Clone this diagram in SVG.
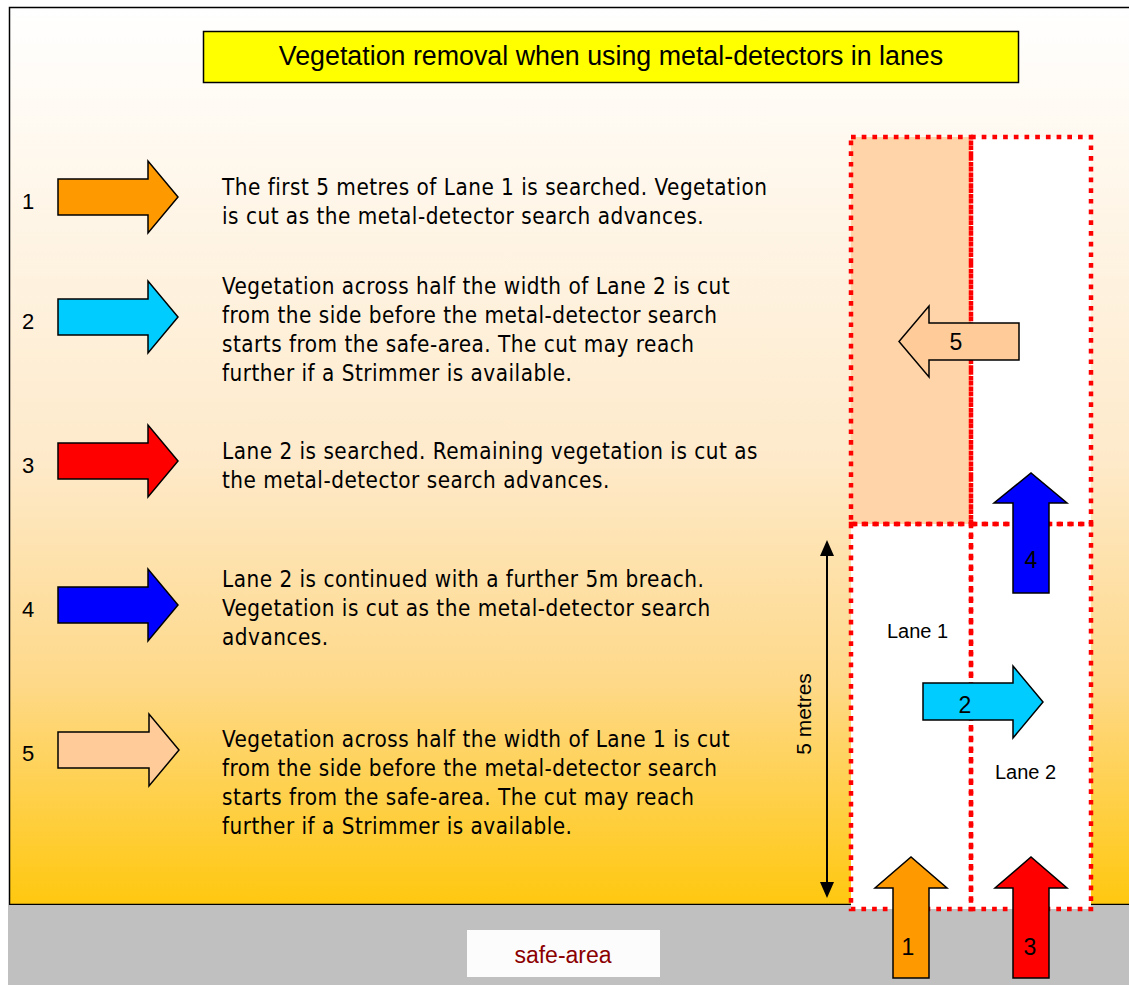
<svg xmlns="http://www.w3.org/2000/svg" width="1129" height="985" viewBox="0 0 1129 985">
<defs>
<linearGradient id="bg" x1="0" y1="0" x2="0" y2="1">
<stop offset="0" stop-color="#FFFFFF"/>
<stop offset="0.5" stop-color="#FEEACB"/>
<stop offset="0.75" stop-color="#FED98A"/>
<stop offset="1" stop-color="#FFC80F"/>
</linearGradient>
<style>
.body{font-family:"DejaVu Sans Condensed","DejaVu Sans",sans-serif;font-stretch:condensed;font-size:22.3px;letter-spacing:0.5px;fill:#000}
.num{font-family:"Liberation Sans",Arial,sans-serif;font-size:22px;fill:#000}
.anum{font-family:"Liberation Sans",Arial,sans-serif;font-size:23px;fill:#000;text-anchor:middle}
.lane{font-family:"Liberation Sans",Arial,sans-serif;font-size:20px;fill:#000}
.arr{stroke:#000;stroke-width:1.5;stroke-linejoin:miter}
.dot{fill:none;stroke:#FF0000;stroke-width:4.5;stroke-dasharray:4.7 6}
</style>
</defs>
<rect x="0" y="0" width="1129" height="985" fill="#FFFFFF"/>
<rect x="9.5" y="7.5" width="1125" height="897" fill="url(#bg)" stroke="#000" stroke-width="1.5"/>
<rect x="8" y="905" width="1121" height="80" fill="#C0C0C0"/>

<g id="title">
<rect x="203.5" y="31.5" width="815" height="51" fill="#FFFF00" stroke="#000" stroke-width="1.5"/>
<text x="611" y="65" font-family="Liberation Sans, Arial, sans-serif" font-size="26.8" text-anchor="middle">Vegetation removal when using metal-detectors in lanes</text>
</g>

<g id="safe-area">
<rect x="467" y="930" width="193" height="47" fill="#FCFCFC"/>
<text x="563" y="963" font-family="Liberation Sans, Arial, sans-serif" font-size="23" fill="#8B0000" text-anchor="middle">safe-area</text>
</g>

<g id="lanes">
<rect id="lane1-upper" x="851" y="137" width="120" height="387" fill="#FFD4A8"/>
<rect id="lane2-upper" x="971" y="137" width="120" height="387" fill="#FFFFFF"/>
<rect id="lane1-lower" x="851" y="524" width="120" height="385" fill="#FFFFFF"/>
<rect id="lane2-lower" x="971" y="524" width="120" height="385" fill="#FFFFFF"/>
<rect class="dot" x="851" y="137" width="120" height="387"/>
<rect class="dot" x="971" y="137" width="120" height="387"/>
<rect class="dot" x="851" y="524" width="120" height="385"/>
<rect class="dot" x="971" y="524" width="120" height="385"/>
<text class="lane" x="887" y="638">Lane 1</text>
<text class="lane" x="995" y="779">Lane 2</text>
</g>

<g id="dimension">
<line x1="827" y1="552" x2="827" y2="886" stroke="#000" stroke-width="2"/>
<path d="M827,540 L834,556 L820,556 Z" fill="#000"/>
<path d="M827,898 L834,882 L820,882 Z" fill="#000"/>
<text transform="translate(811,714) rotate(-90)" font-family="Liberation Sans, Arial, sans-serif" font-size="21" text-anchor="middle">5 metres</text>
</g>

<g id="step1">
<text class="num" x="22" y="209">1</text>
<path class="arr" fill="#FF9900" d="M58,179 H148 V161 L178,197 L148,233 V215 H58 Z"/>
<text class="body" x="222" y="195">The first 5 metres of Lane 1 is searched. Vegetation</text>
<text class="body" x="222" y="224">is cut as the metal-detector search advances.</text>
</g>

<g id="step2">
<text class="num" x="22" y="329">2</text>
<path class="arr" fill="#00CCFF" d="M58,299 H148 V281 L178,317 L148,353 V335 H58 Z"/>
<text class="body" x="222" y="294">Vegetation across half the width of Lane 2 is cut</text>
<text class="body" x="222" y="323">from the side before the metal-detector search</text>
<text class="body" x="222" y="352">starts from the safe-area. The cut may reach</text>
<text class="body" x="222" y="381">further if a Strimmer is available.</text>
</g>

<g id="step3">
<text class="num" x="22" y="473">3</text>
<path class="arr" fill="#FF0000" d="M58,443 H148 V425 L178,461 L148,497 V479 H58 Z"/>
<text class="body" x="222" y="459">Lane 2 is searched. Remaining vegetation is cut as</text>
<text class="body" x="222" y="488">the metal-detector search advances.</text>
</g>

<g id="step4">
<text class="num" x="22" y="617">4</text>
<path class="arr" fill="#0000FF" d="M58,587 H148 V569 L178,605 L148,641 V623 H58 Z"/>
<text class="body" x="222" y="587">Lane 2 is continued with a further 5m breach.</text>
<text class="body" x="222" y="616">Vegetation is cut as the metal-detector search</text>
<text class="body" x="222" y="645">advances.</text>
</g>

<g id="step5">
<text class="num" x="22" y="761">5</text>
<path class="arr" fill="#FFCC99" d="M58,732 H149 V714 L179,750 L149,786 V768 H58 Z"/>
<text class="body" x="222" y="747">Vegetation across half the width of Lane 1 is cut</text>
<text class="body" x="222" y="776">from the side before the metal-detector search</text>
<text class="body" x="222" y="805">starts from the safe-area. The cut may reach</text>
<text class="body" x="222" y="834">further if a Strimmer is available.</text>
</g>

<g id="connectors">
<g id="arrow5">
<path class="arr" fill="#FFCC99" d="M1019,323 H929 V306 L899,341.5 L929,377 V360 H1019 Z"/>
<text class="anum" x="956" y="350">5</text>
</g>
<g id="arrow4">
<path class="arr" fill="#0000FF" d="M1013,593 V503 H994 L1031,473 L1067,503 H1049 V593 Z"/>
<text class="anum" x="1031" y="568">4</text>
</g>
<g id="arrow2">
<path class="arr" fill="#00CCFF" d="M923,683 H1013 V666 L1043,702 L1013,738 V720 H923 Z"/>
<text class="anum" x="965" y="713">2</text>
</g>
<g id="arrow1">
<path class="arr" fill="#FF9900" d="M893,978 V888 H875 L911,857 L947,888 H929 V978 Z"/>
<text class="anum" x="908" y="955">1</text>
</g>
<g id="arrow3">
<path class="arr" fill="#FF0000" d="M1013,978 V888 H995 L1031,857 L1067,888 H1049 V978 Z"/>
<text class="anum" x="1030" y="955">3</text>
</g>
</g>
</svg>
